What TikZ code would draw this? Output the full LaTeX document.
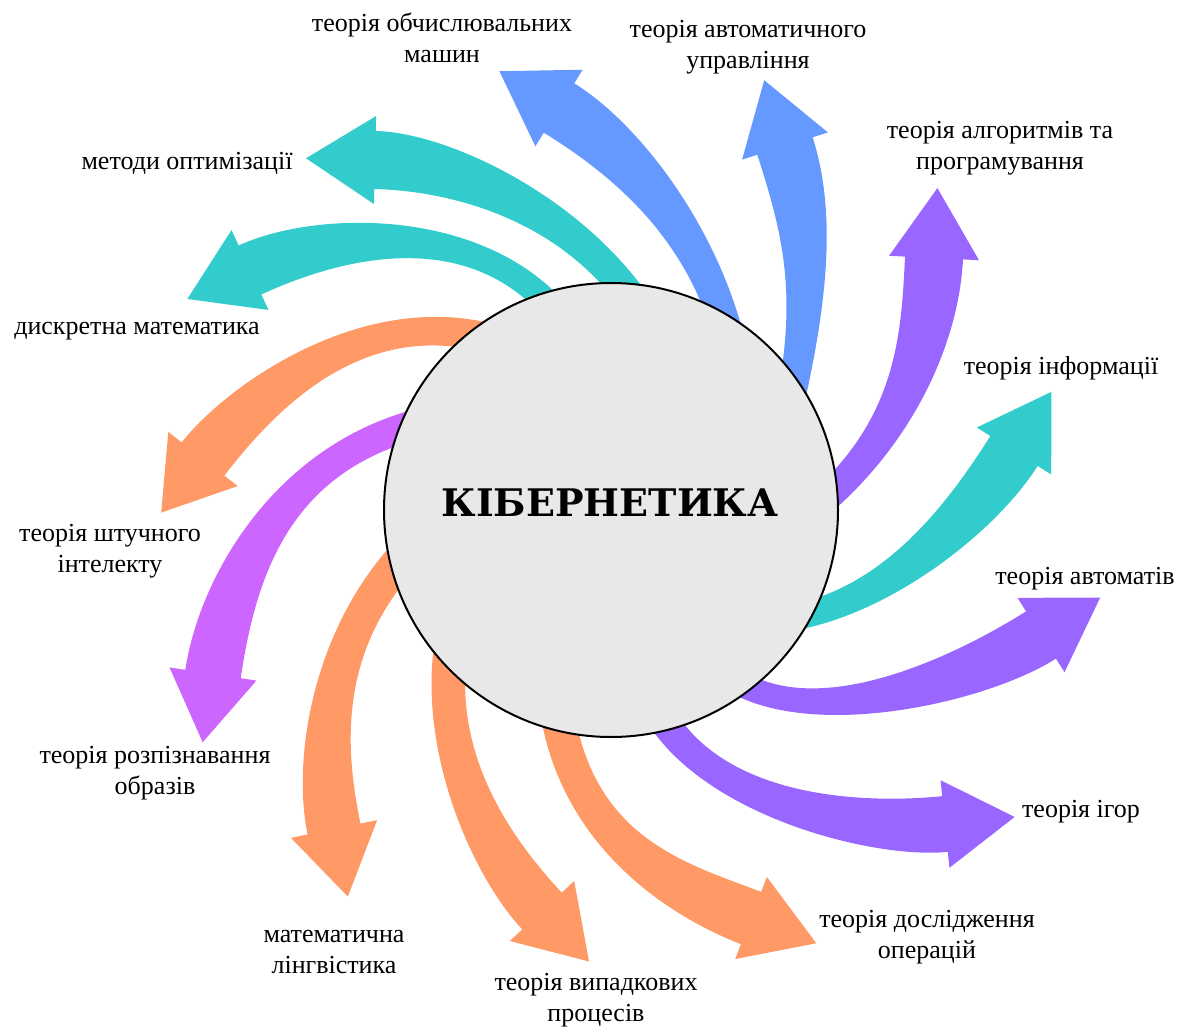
\documentclass[tikz,border=0pt]{standalone}
\usepackage{fontspec}
\setmainfont{Liberation Serif}
\newfontfamily\titlefont{DejaVu Serif}
\usetikzlibrary{calc}
\definecolor{cblue}{HTML}{6699FF}
\definecolor{cteal}{HTML}{33CCCC}
\definecolor{cpurple}{HTML}{9966FF}
\definecolor{corange}{HTML}{FF9966}
\definecolor{cviolet}{HTML}{CC66FF}
\definecolor{cgray}{HTML}{E8E8E8}
% #1 colour, #2 P0, #3 P1, #4 P2, #5 P3 (head base centre), #6 start half-width, #7 end half-width, #8 head half-width, #9 head length
\newcommand\swirl[9]{%
  \coordinate (p0) at #2; \coordinate (p1) at #3;
  \coordinate (p2) at #4; \coordinate (p3) at #5;
  \coordinate (a0) at ($(p0)!#6pt!90:(p1)$);
  \coordinate (b0) at ($(p0)!#6pt!-90:(p1)$);
  \coordinate (a3) at ($(p3)!#7pt!-90:(p2)$);
  \coordinate (b3) at ($(p3)!#7pt!90:(p2)$);
  \coordinate (a1) at ($(p1)+(a0)-(p0)$);
  \coordinate (b1) at ($(p1)+(b0)-(p0)$);
  \coordinate (a2) at ($(p2)+(a3)-(p3)$);
  \coordinate (b2) at ($(p2)+(b3)-(p3)$);
  \coordinate (ha) at ($(p3)!#8pt!-90:(p2)$);
  \coordinate (hb) at ($(p3)!#8pt!90:(p2)$);
  \coordinate (tip) at ($(p3)!#9pt!180:(p2)$);
  \fill[#1] (a0) .. controls (a1) and (a2) .. (a3) -- (ha) -- (tip) -- (hb) -- (b3)
     .. controls (b2) and (b1) .. (b0) -- cycle;
}
\tikzset{
  lbl/.style={font={\fontsize{26}{31.5}\selectfont}, align=center, inner sep=0pt},
  core/.style={circle, draw=black, line width=2pt, fill=cgray, minimum size=454pt, inner sep=0pt},
  title/.style={font={\titlefont\bfseries\fontsize{38}{40}\selectfont}, inner sep=0pt}
}
\begin{document}
\begin{tikzpicture}[x=1pt,y=-1pt]
\useasboundingbox (0,0) rectangle (1181,1028);
% arrows
\swirl{cblue}{(735,365)}{(712,240)}{(627,150)}{(559,108)}{15}{29}{45}{70}
\swirl{cblue}{(785,425)}{(815,300)}{(809,222)}{(785,146)}{14}{29}{45}{69}
\swirl{cpurple}{(800,520)}{(905,440)}{(930,340)}{(934,258)}{14}{29}{45}{70}
\swirl{cteal}{(775,620)}{(880,610)}{(971,519)}{(1014,451)}{13}{28}{44}{70}
\swirl{cpurple}{(715,665)}{(790,740)}{(965,683)}{(1041,635)}{13}{28}{44}{70}
\swirl{cpurple}{(650,695)}{(695,805)}{(866,832)}{(945,824)}{15}{28}{44}{70}
\swirl{corange}{(555,695)}{(570,840)}{(676,889)}{(751,918)}{17}{28}{44}{70}
\swirl{corange}{(455,625)}{(428,740)}{(488,853)}{(542,911)}{17}{27}{44}{69}
\swirl{corange}{(420,540)}{(325,630)}{(318,751)}{(334,829)}{17}{27}{44}{69}
\swirl{cviolet}{(435,420)}{(285,450)}{(228,575)}{(213,674)}{15}{28}{44}{69}
\swirl{corange}{(510,345)}{(370,293)}{(249,400)}{(203,459)}{15}{27}{44}{68}
\swirl{cteal}{(570,330)}{(490,213)}{(330,233)}{(250,270)}{13}{27}{44}{69}
\swirl{cteal}{(652,330)}{(590,215)}{(455,162)}{(375,160)}{15}{29}{44}{69}
% centre
\node[core] (core) at (611,510) {};
\node[title] (ttl) at (610,503) {КІБЕРНЕТИКА};
% labels
\node[lbl] (l1) at (442,38) {теорія обчислювальних\\машин};
\node[lbl] (l2) at (748,47) {теорія автоматичного\\управління};
\node[lbl] (l3) at (1000,148) {теорія алгоритмів та\\програмування};
\node[lbl] (l4) at (1061,368) {теорія інформації};
\node[lbl] (l5) at (1085,579) {теорія автоматів};
\node[lbl] (l6) at (1081,812) {теорія ігор};
\node[lbl] (l7) at (927,937) {теорія дослідження\\операцій};
\node[lbl] (l8) at (596,1000) {теорія випадкових\\процесів};
\node[lbl] (l9) at (334,952) {математична\\лінгвістика};
\node[lbl] (l10) at (155,773) {теорія розпізнавання\\образів};
\node[lbl] (l11) at (110,551) {теорія штучного\\інтелекту};
\node[lbl] (l12) at (137,331) {дискретна математика};
\node[lbl] (l13) at (187,163) {методи оптимізації};
\end{tikzpicture}
\end{document}
